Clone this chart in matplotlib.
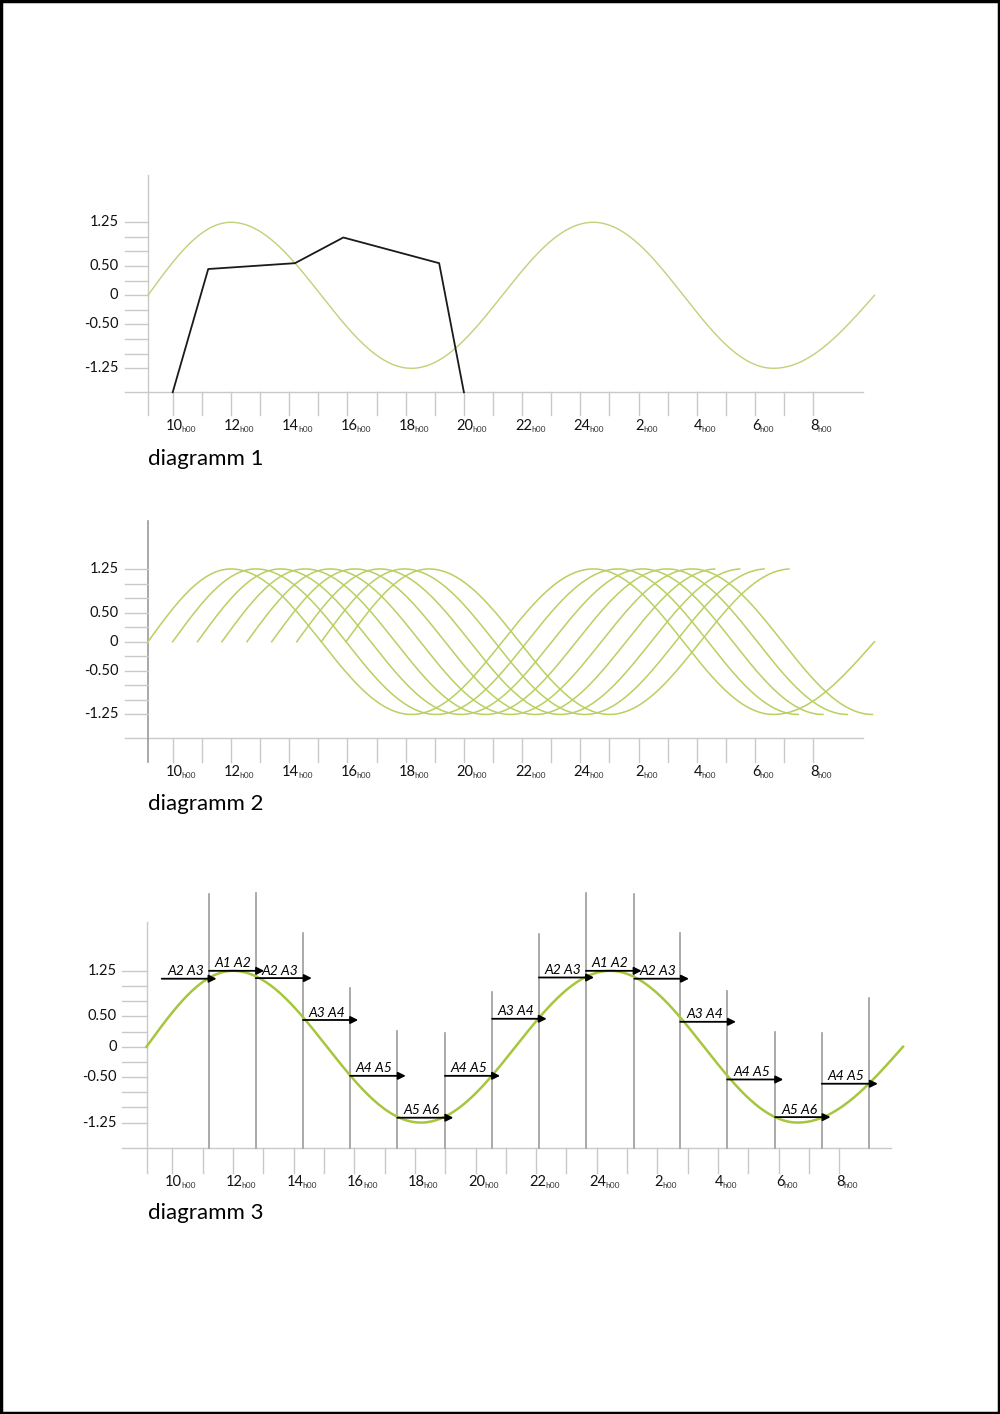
import numpy as np
import matplotlib
matplotlib.use("Agg")
import matplotlib.pyplot as plt
from matplotlib.patches import Rectangle

plt.rcParams['font.family'] = ['Lato', 'DejaVu Sans']

# time axis in hours (24 = midnight, 26 = 2h00 next day)
tick_hours = list(range(10, 33))
label_hours = [10, 12, 14, 16, 18, 20, 22, 24, 26, 28, 30, 32]
label_text = ["10", "12", "14", "16", "18", "20", "22", "24", "2", "4", "6", "8"]
y_minor = [-1.25, -1.0, -0.75, -0.5, -0.25, 0, 0.25, 0.5, 0.75, 1.0, 1.25]
y_labels = [-1.25, -0.5, 0, 0.5, 1.25]
y_label_text = ["-1.25", "-0.50", "0", "0.50", "1.25"]

# key points of the wave: start, peaks / troughs, end
wave_hours = [9.15, 12.0, 18.2, 24.44, 30.63, 34.1]
wave_values = [0, 1.25, -1.25, 1.25, -1.25, 0]

# diagram 1 - black line
line_hours = [10.0, 11.22, 14.2, 15.86, 19.15, 20.0]
line_values = [-1.66, 0.45, 0.55, 0.99, 0.55, -1.66]

# diagram 2 - shifted waves (start hour, end hour)
shift_start = [9.15, 10.0, 10.85, 11.69, 12.55, 13.4, 14.26, 15.1, 15.95]
shift_end = [34.1, 31.5, 32.35, 33.2, 34.05, 28.65, 29.5, 30.35, 31.2]

# diagram 3 - vertical markers and arrows
bar_hours = [11.21, 12.75, 14.31, 15.86, 17.42, 18.99, 20.55, 22.09, 23.64,
             25.24, 26.75, 28.30, 29.88, 31.42, 32.98]
bar_tops = [2.52, 2.54, 1.88, 0.97, 0.26, 0.23, 0.90, 1.86, 2.54,
            2.52, 1.87, 0.91, 0.24, 0.22, 0.80]
arrow_start = [9.65, 11.21, 12.75, 14.31, 15.86, 17.42, 18.99, 20.55, 22.09,
               23.64, 25.24, 26.75, 28.30, 29.88, 31.42]
arrow_end = [11.46, 13.03, 14.60, 16.13, 17.70, 19.27, 20.81, 22.35, 23.91,
             25.48, 27.04, 28.59, 30.15, 31.71, 33.27]
arrow_values = [1.12, 1.25, 1.13, 0.44, -0.48, -1.17, -0.48, 0.46, 1.14,
                1.25, 1.12, 0.41, -0.54, -1.16, -0.61]
arrow_labels = ["A2 A3", "A1 A2", "A2 A3", "A3 A4", "A4 A5", "A5 A6", "A4 A5",
                "A3 A4", "A2 A3", "A1 A2", "A2 A3", "A3 A4", "A4 A5", "A5 A6",
                "A4 A5"]

GREY = "#c9c9c9"
W, H = 1000, 1414

fig = plt.figure(figsize=(W / 100, H / 100), dpi=100)
fig.patch.set_facecolor("white")


def make_axes(px_h, h10_px, zero_px, px_v, xlim=(8.0, 35.0), ylim=(-2.3, 2.7)):
    left = h10_px + (xlim[0] - 10) * px_h
    right = h10_px + (xlim[1] - 10) * px_h
    top = zero_px - ylim[1] * px_v
    bottom = zero_px - ylim[0] * px_v
    ax = fig.add_axes([left / W, 1 - bottom / H, (right - left) / W, (bottom - top) / H])
    ax.set_xlim(xlim)
    ax.set_ylim(ylim)
    ax.axis("off")
    return ax


# smooth wave through the key points, shifted by `shift` hours, cut at `end`
def wave(shift=0.0, end=None):
    hs, vs = [], []
    for i in range(len(wave_hours) - 1):
        h0, h1 = wave_hours[i] + shift, wave_hours[i + 1] + shift
        v0, v1 = wave_values[i], wave_values[i + 1]
        t = np.linspace(0, 1, 80)
        if v0 == 0:
            v = v1 * np.sin(t * np.pi / 2)
        elif v1 == 0:
            v = v0 * np.cos(t * np.pi / 2)
        else:
            v = v0 + (v1 - v0) * (1 - np.cos(np.pi * t)) / 2
        hs.append(h0 + (h1 - h0) * t)
        vs.append(v)
    hs, vs = np.concatenate(hs), np.concatenate(vs)
    if end is not None:
        keep = hs <= end + 1e-6
        hs, vs = hs[keep], vs[keep]
    return hs, vs


def frame(ax, axis_v, ytop, ybot, left_h, right_h, yaxis_col=GREY, yaxis_lw=1.0):
    y0 = 9.16
    ax.plot([left_h, right_h], [axis_v, axis_v], color=GREY, lw=1.0, zorder=1)
    ax.plot([y0, y0], [ybot, ytop], color=yaxis_col, lw=yaxis_lw, zorder=1)
    for v in y_minor:
        ax.plot([left_h, y0], [v, v], color=GREY, lw=1.0, zorder=1)
    for h in tick_hours:
        ax.plot([h, h], [axis_v, ybot], color=GREY, lw=1.0, zorder=1)
    for v, s in zip(y_labels, y_label_text):
        ax.annotate(s, xy=(y0, v), xytext=(-21.5, 0), textcoords="offset points",
                    ha="right", va="center", fontsize=10.5, color="#111111")
    for h, s in zip(label_hours, label_text):
        num = ax.annotate(s, xy=(h, axis_v), xytext=(1.0, -24.5),
                          textcoords="offset points", ha="center", va="center",
                          fontsize=10.5, color="#111111")
        ax.annotate("h00", xy=(1, 0), xycoords=num, xytext=(-0.8, 0),
                    textcoords="offset points", ha="left", va="bottom",
                    fontsize=6, color="#333333")


# ---- diagram 1
ax1 = make_axes(29.12, 172.7, 295.3, 58.4)
frame(ax1, -1.656, 2.06, -2.05, 8.36, 33.7)
h, v = wave()
ax1.plot(h, v, color="#bdd27a", lw=1.0, zorder=3)
ax1.plot(line_hours, line_values, color="#1a1a1a", lw=1.3, zorder=4)
fig.text(148 / W, 1 - 459 / H, "diagramm 1", fontsize=16, ha="left", va="center")

# ---- diagram 2
ax2 = make_axes(29.12, 172.7, 641.7, 58.2)
frame(ax2, -1.66, 2.07, -2.06, 8.36, 33.7, yaxis_col="#9a9a9a", yaxis_lw=1.2)
for s, e in zip(shift_start, shift_end):
    h, v = wave(s - wave_hours[0], e)
    ax2.plot(h, v, color="#b8d060", lw=1.1, zorder=3)
fig.text(148 / W, 1 - 804 / H, "diagramm 2", fontsize=16, ha="left", va="center")

# ---- diagram 3
ax3 = make_axes(30.32, 172.3, 1046.7, 60.7)
frame(ax3, -1.664, 2.06, -2.076, 8.33, 33.7)
for bh, bt in zip(bar_hours, bar_tops):
    ax3.plot([bh, bh], [-1.664, bt], color="#9c9c9c", lw=1.2, zorder=2)
h, v = wave()
ax3.plot(h, v, color="#a6c63e", lw=1.8, zorder=3)
for s, e, av, lab in zip(arrow_start, arrow_end, arrow_values, arrow_labels):
    ax3.annotate("", xy=(e, av), xytext=(s, av),
                 arrowprops=dict(arrowstyle="-|>", color="black", lw=1.3,
                                 mutation_scale=11, shrinkA=0, shrinkB=0),
                 zorder=5)
    ax3.annotate(lab, xy=((s + e) / 2 - 0.12, av), xytext=(0, 1),
                 textcoords="offset points", ha="center", va="bottom",
                 fontsize=10, fontstyle="italic", color="black", zorder=6)
fig.text(148 / W, 1 - 1213 / H, "diagramm 3", fontsize=16, ha="left", va="center")

# page border
fig.patches.append(Rectangle((0.001, 0.001), 0.998, 0.998, transform=fig.transFigure,
                             fill=False, edgecolor="black", lw=2.5))

fig.savefig("out.png", dpi=100)
